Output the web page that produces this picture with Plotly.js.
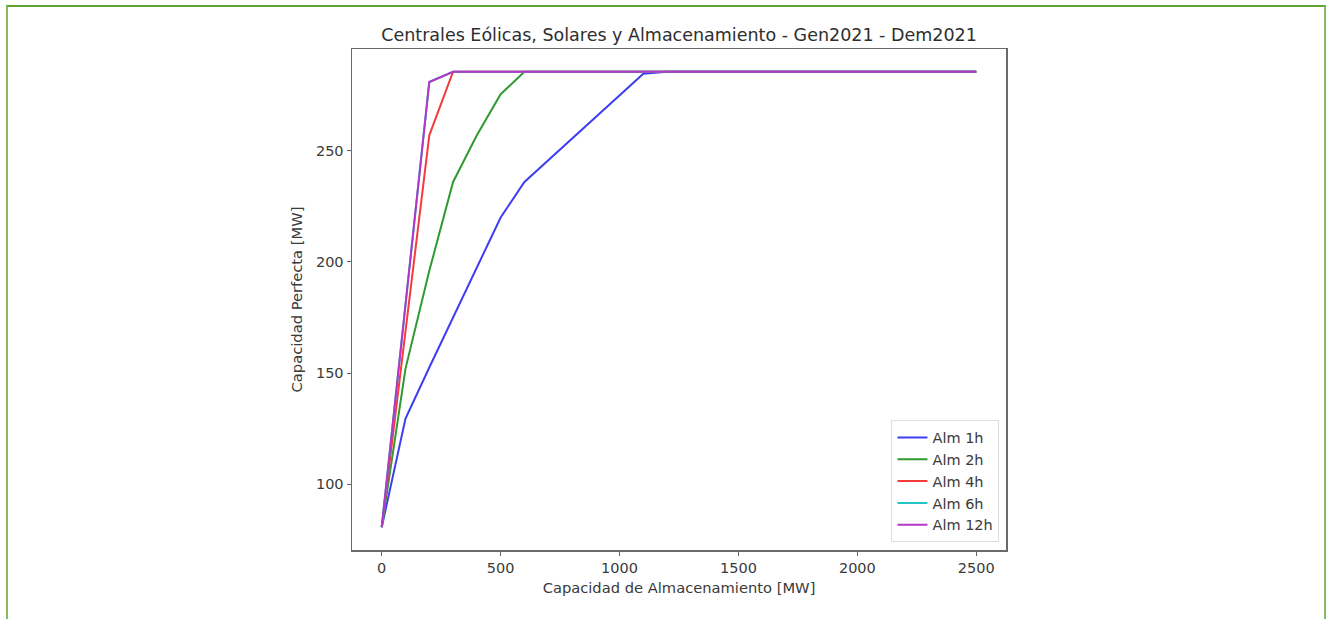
<!DOCTYPE html>
<html>
<head>
<meta charset="utf-8">
<script src="https://cdn.plot.ly/plotly-3.0.1.min.js"></script>
<style>
  html, body { margin: 0; padding: 0; background: #ffffff; }
  #frame { position: absolute; left: 6px; top: 5px; width: 1320px; height: 620px;
           border-left: 2px solid #86bb62; border-right: 2px solid #86bb62; border-top: 2px solid #5fa332; box-sizing: border-box; }
  #chart { position: absolute; left: 0; top: 0; width: 1330px; height: 619px; }
</style>
</head>
<body>
<div id="chart"></div>
<div id="frame"></div>
<script>
const x1h = [0, 100, 200, 300, 400, 500, 600, 1100, 1200, 2500];
const y1h = [80.6, 129.5, 152.5, 175, 197.5, 220, 236, 284.7, 285.6, 285.6];
const x2h = [0, 100, 200, 300, 400, 500, 600, 2500];
const y2h = [80.6, 152, 196, 236, 257, 275.5, 285.6, 285.6];
const x4h = [0, 200, 300, 2500];
const y4h = [80.6, 257, 285.6, 285.6];
const x6h = [0, 200, 300, 2500];
const y6h = [80.6, 281, 285.6, 285.6];
const x12h = [0, 200, 300, 2500];
const y12h = [80.6, 281, 285.6, 285.6];

const names = ['Alm 1h', 'Alm 2h', 'Alm 4h', 'Alm 6h', 'Alm 12h'];
const colors = ['#3d3df2', '#2f9a2f', '#f23c3c', '#25c4c4', '#b236c8'];
const xs = [x1h, x2h, x4h, x6h, x12h];
const ys = [y1h, y2h, y4h, y6h, y12h];

const traces = names.map((n, i) => ({
  x: xs[i], y: ys[i], name: n, type: 'scatter', mode: 'lines',
  line: { color: colors[i], width: 2 }
}));

const tickFont = { family: 'DejaVu Sans', size: 14.5, color: '#3a3a3a' };
const layout = {
  width: 1330, height: 619,
  paper_bgcolor: '#ffffff', plot_bgcolor: '#ffffff',
  margin: { l: 352, r: 324, t: 49, b: 69 },
  font: { family: 'DejaVu Sans', color: '#3a3a3a' },
  title: { text: 'Centrales Eólicas, Solares y Almacenamiento - Gen2021 - Dem2021',
           font: { family: 'DejaVu Sans', size: 17.5, color: '#2e2e2e' },
           xref: 'paper', x: 0.5, xanchor: 'center', yref: 'container', y: 0.943, yanchor: 'middle' },
  xaxis: {
    range: [-125, 2625], tickvals: [0, 500, 1000, 1500, 2000, 2500],
    ticks: 'outside', ticklen: 4, tickcolor: '#666', tickwidth: 1,
    showline: true, mirror: true, linecolor: '#6a6a6a', linewidth: 1.5,
    showgrid: false, zeroline: false, tickfont: tickFont,
    title: { text: 'Capacidad de Almacenamiento [MW]', font: { family: 'DejaVu Sans', size: 14.7, color: '#3a3a3a' }, standoff: 8 }
  },
  yaxis: {
    range: [70.35, 295.85], tickvals: [100, 150, 200, 250],
    ticks: 'outside', ticklen: 4, tickcolor: '#666', tickwidth: 1,
    showline: true, mirror: true, linecolor: '#6a6a6a', linewidth: 1.5,
    showgrid: false, zeroline: false, tickfont: tickFont,
    title: { text: 'Capacidad Perfecta [MW]', font: { family: 'DejaVu Sans', size: 14.7, color: '#3a3a3a' }, standoff: 10 }
  },
  showlegend: true,
  legend: {
    x: 0.99, y: 0.015, xanchor: 'right', yanchor: 'bottom',
    bgcolor: '#ffffff', bordercolor: '#dddddd', borderwidth: 1,
    font: { family: 'DejaVu Sans', size: 14.5, color: '#3a3a3a' },
    tracegroupgap: 0, itemwidth: 30
  }
};

Plotly.newPlot('chart', traces, layout, { displayModeBar: false, staticPlot: true });
</script>
</body>
</html>
